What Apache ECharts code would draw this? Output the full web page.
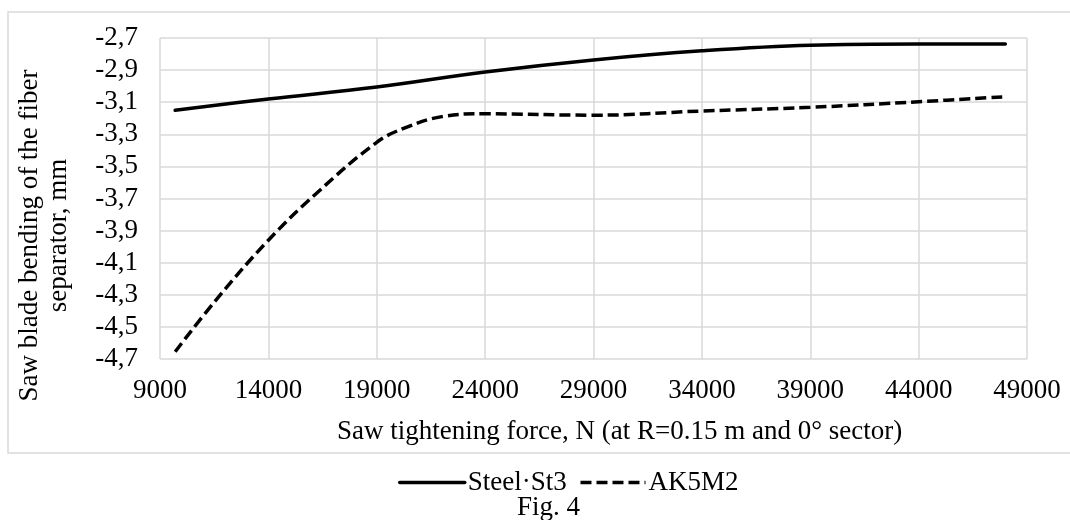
<!DOCTYPE html>
<html>
<head>
<meta charset="utf-8">
<script src="https://cdn.jsdelivr.net/npm/echarts@6/dist/echarts.min.js"></script>
<style>
   html, body { margin: 0; padding: 0; background: #fff; }
   #chart { width: 1070px; height: 520px; }
</style>
</head>
<body>
<div id="chart"></div>
<script>
// values
let steelForce = [9700, 14000, 19000, 24000, 29000, 34000, 39000, 44000, 48000]
let steelBend = [-3.15, -3.08, -3.005, -2.912, -2.837, -2.78, -2.745, -2.738, -2.738]

let akForce = [9700, 11600, 14000, 16200, 19000, 20300, 22000, 24000, 29000, 34000, 39000, 44000, 48000]
let akBend = [-4.655, -4.33, -3.96, -3.67, -3.35, -3.26, -3.19, -3.172, -3.181, -3.155, -3.132, -3.097, -3.066]

let xTicks = [9000, 14000, 19000, 24000, 29000, 34000, 39000, 44000, 49000]
let yTicks = [-4.7, -4.5, -4.3, -4.1, -3.9, -3.7, -3.5, -3.3, -3.1, -2.9, -2.7]

const FONT = 'Liberation Serif'

function pairs(xs, ys) {
   let out = []
   for (let i = 0; i < xs.length; i++) {
      out.push([xs[i], ys[i]])
   }
   return out
}

let myChart = echarts.init(document.getElementById('chart'))

let option = {
   animation: false,
   textStyle: { fontFamily: FONT, color: '#000' },
   grid: {
      left: 160,
      right: 43,
      top: 38,
      bottom: 161,
      containLabel: false,
      outerBoundsMode: 'none'
   },
   graphic: [
      {
         type: 'rect',
         z: -10,
         shape: { x: 8, y: 12, width: 1100, height: 441 },
         style: { fill: 'none', stroke: '#d9d9d9', lineWidth: 1.5 }
      },
      {
         type: 'text',
         left: 337,
         top: 418,
         style: {
            text: 'Saw tightening force, N (at R=0.15 m and 0° sector)',
            font: '27px "Liberation Serif"',
            fill: '#000'
         }
      },
      {
         type: 'text',
         left: 517,
         top: 494,
         style: {
            text: 'Fig. 4',
            font: '27px "Liberation Serif"',
            fill: '#000'
         }
      }
   ],
   legend: {
      top: 464,
      left: 393,
      itemWidth: 65,
      itemHeight: 12,
      itemGap: 12,
      itemStyle: { opacity: 0 },
      lineStyle: { width: 3.5 },
      textStyle: { fontFamily: FONT, fontSize: 27, color: '#000', padding: [0, 0, 0, -2] },
      data: ['Steel·St3', 'AK5M2']
   },
   xAxis: {
      type: 'value',
      min: xTicks[0],
      max: xTicks[xTicks.length - 1],
      interval: 5000,
      axisLine: { show: false },
      axisTick: { show: false },
      axisLabel: {
         fontFamily: FONT,
         fontSize: 27,
         color: '#000',
         margin: 18,
         formatter: v => String(v)
      },
      splitLine: { show: true, lineStyle: { color: '#d9d9d9', width: 1.5 } }
   },
   yAxis: {
      type: 'value',
      min: yTicks[0],
      max: yTicks[yTicks.length - 1],
      interval: 0.2,
      name: 'Saw blade bending of the fiber\nseparator, mm',
      nameLocation: 'middle',
      nameGap: 87,
      nameTextStyle: {
         fontFamily: FONT,
         fontSize: 27,
         color: '#000',
         lineHeight: 29,
         padding: [0, 74, 0, 0]
      },
      axisLine: { show: false },
      axisTick: { show: false },
      axisLabel: {
         fontFamily: FONT,
         fontSize: 27,
         color: '#000',
         margin: 22,
         formatter: v => v.toFixed(1).replace('.', ',')
      },
      splitLine: { show: true, lineStyle: { color: '#d9d9d9', width: 1.5 } }
   },
   series: [
      {
         name: 'Steel·St3',
         type: 'line',
         smooth: 0.4,
         symbol: 'none',
         data: pairs(steelForce, steelBend),
         lineStyle: { color: '#000', width: 3.5, cap: 'round' },
         itemStyle: { color: '#000' }
      },
      {
         name: 'AK5M2',
         type: 'line',
         smooth: 0.4,
         symbol: 'none',
         data: pairs(akForce, akBend),
         lineStyle: { color: '#000', width: 3.5, type: [11, 5] },
         itemStyle: { color: '#000' }
      }
   ]
}

myChart.setOption(option)
</script>
</body>
</html>
